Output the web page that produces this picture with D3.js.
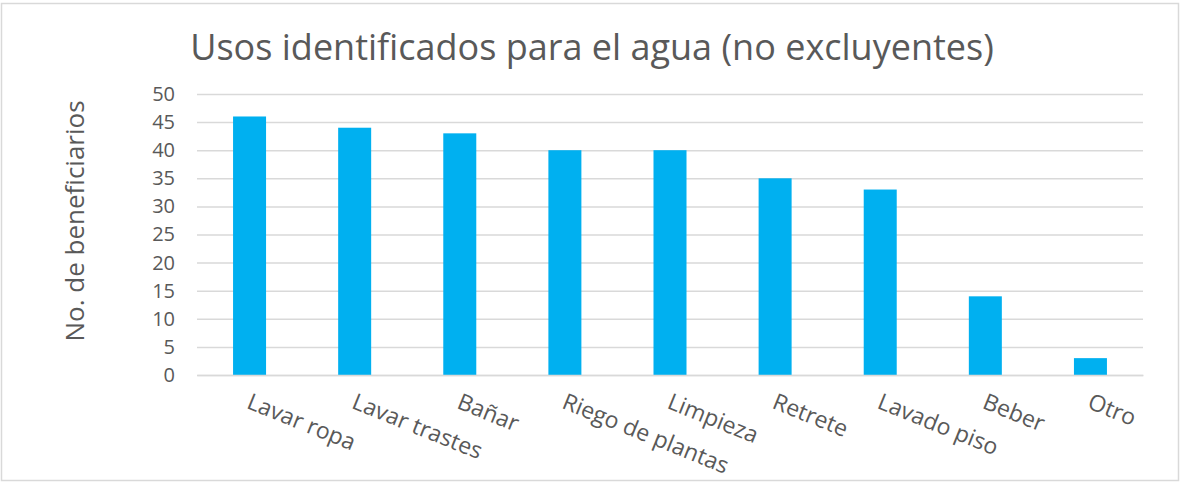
<!DOCTYPE html>
<html><head><meta charset="utf-8">
<script src="https://cdn.jsdelivr.net/npm/d3@7"></script>
<style>body{margin:0;background:#fff}svg{display:block}text{font-family:"Open Sans",sans-serif;fill:#595959}</style>
</head><body><svg id="c" width="1180" height="482"></svg>
<script>
const title = "Usos identificados para el agua (no excluyentes)";
const yTitle = "No. de beneficiarios";
const categories = ["Lavar ropa","Lavar trastes","Bañar","Riego de plantas","Limpieza","Retrete","Lavado piso","Beber","Otro"];
const values = [46,44,43,40,40,35,33,14,3];
const yTicks = [0,5,10,15,20,25,30,35,40,45,50];

const svg = d3.select("#c");
svg.append("rect").attr("x",1.5).attr("y",3.5).attr("width",1177).attr("height",477)
  .attr("fill","#fff").attr("stroke","#d9d9d9").attr("stroke-width",1.5);

const m = {left:197,right:1143,top:94,bottom:375};
const x = d3.scaleBand().domain(categories).range([m.left,m.right]).paddingInner(0.686).paddingOuter(0.343);
const y = d3.scaleLinear().domain([0,50]).range([m.bottom,m.top]);

const ga = svg.append("g").attr("transform",`translate(${m.left},0)`)
  .call(d3.axisLeft(y).tickValues(yTicks).tickSize(-(m.right-m.left)).tickPadding(22));
ga.select(".domain").remove();
ga.selectAll("line").attr("stroke","#d9d9d9").attr("stroke-width",1.5);
ga.selectAll("text").attr("font-size",20).style("font-family","'Open Sans',sans-serif").attr("fill","#595959");

svg.append("g").selectAll("rect").data(values).join("rect")
  .attr("x",(d,i)=>x(categories[i])).attr("width",x.bandwidth())
  .attr("y",d=>y(d)).attr("height",d=>y(0)-y(d)).attr("fill","#00B0F0");

const gx = svg.append("g").attr("transform",`translate(0,${m.bottom})`)
  .call(d3.axisBottom(x).tickSize(0));
gx.select(".domain").attr("stroke","#d9d9d9").attr("stroke-width",1.5);
gx.selectAll("text").attr("font-size",23).style("font-family","'Open Sans',sans-serif").attr("fill","#595959")
  .attr("text-anchor","start").attr("dy",0)
  .attr("transform","translate(-3,30) rotate(22)");

svg.append("text").attr("x",592).attr("y",60).attr("text-anchor","middle").attr("font-size",36).text(title);
svg.append("text").attr("transform","translate(84,221) rotate(-90)").attr("text-anchor","middle").attr("font-size",26).text(yTitle);
</script></body></html>
